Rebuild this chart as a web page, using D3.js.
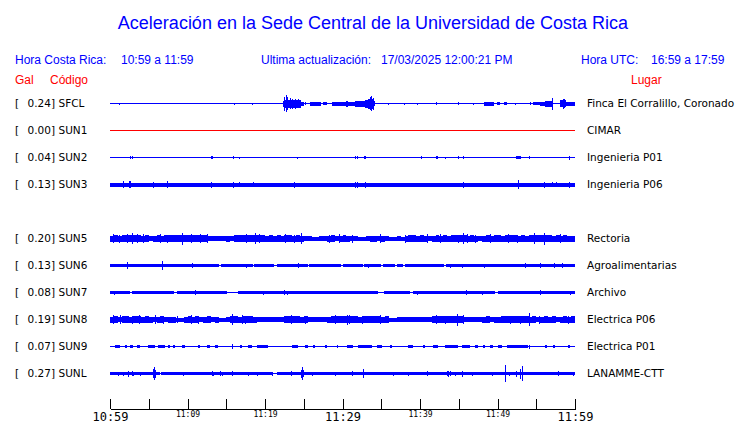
<!DOCTYPE html>
<html><head><meta charset="utf-8">
<script src="https://cdn.jsdelivr.net/npm/d3@7"></script>
<style>body{margin:0;background:#fff}svg{display:block}</style>
</head><body>
<svg id="c" width="740" height="423"></svg>
<script>
// ---------- DATA ----------
const title = "Aceleración en la Sede Central de la Universidad de Costa Rica";
const localRange = "10:59 a 11:59";
const utcRange = "16:59 a 17:59";
const updated = "17/03/2025 12:00:21 PM";

const rowOrder = ["SFCL","SUN1","SUN2","SUN3","SUN4","SUN5","SUN6","SUN7","SUN8","SUN9","SUNL"];
const codes  = ["SFCL","SUN1","SUN2","SUN3","SUN5","SUN6","SUN7","SUN8","SUN9","SUNL"];
const galValues = [0.24,0.00,0.04,0.13,0.20,0.13,0.08,0.19,0.07,0.27];
const places = ["Finca El Corralillo, Coronado","CIMAR","Ingenieria P01","Ingenieria P06","Rectoria",
  "Agroalimentarias","Archivo","Electrica P06","Electrica P01","LANAMME-CTT"];

// minutes after 10:59
const tickMinutes = [0,5,10,15,20,25,30,35,40,45,50,55,60];
const tickLabels  = ["10:59","","11:09","","11:19","","11:29","","11:39","","11:49","","11:59"];
const majorTicks  = ["10:59","11:29","11:59"];

// trace envelopes: bands [t0,t1,amp], spikes [t,amp], noise = half-minute envelope
const sfclBands = [[22.3,22.6,3.0],[22.6,24.6,4.0],[24.6,25.0,2.0],[25.8,27.2,2.0],[27.5,28.0,1.5],[28.7,30.4,2.0],
  [30.4,30.7,3.0],[30.7,31.6,2.0],[31.6,32.9,3.0],[32.9,33.3,4.0],[33.3,34.0,5.0],[34.0,34.2,2.5],
  [48.3,49.5,2.0],[49.9,50.3,1.5],[50.9,51.2,1.5],[54.6,55.5,1.5],[55.5,56.1,2.0],[56.1,57.2,3.0],
  [58.1,58.9,3.5],[58.9,60,2.0]];
const sfclSpikes = [[1.2,1.0],[16.0,1.0],[16.6,0.8],[18.3,1.0],[22.5,7.0],[22.7,8.5],[22.9,6.5],[23.2,5.5],
  [23.5,5.0],[23.9,5.0],[24.3,4.5],[25.2,1.2],[30.5,3.0],[33.5,6.5],[33.7,7.5],[33.9,6.0],[35.9,1.0],
  [38.0,1.0],[39.6,1.0],[42.1,1.2],[44.9,1.2],[46.9,1.0],[52.3,1.0],[54.2,1.2],[57.0,6.0],[58.4,5.0],[58.6,4.5]];

const sun1Bands = [], sun1Spikes = [];

const sun2Bands = [[13.0,13.25,1.5],[32.8,33.0,1.5],[42.1,42.3,1.3],[45.5,45.7,1.5],[52.4,53.0,1.8]];
const sun2Spikes = [[2.6,1.8],[2.8,1.8],[4.2,0.8],[15.9,1.8],[16.7,1.0],[24.1,1.0],[31.6,1.8],[31.9,1.8],
  [40.1,1.5],[43.2,1.0],[43.7,0.8],[44.9,1.5],[54.1,1.5],[59.2,2.0]];

const sun3Bands = [[0,60,2.0]];
const sun3Spikes = [[1.7,3.5],[2.5,3.5],[2.6,3.5],[5.6,3.0],[7.4,3.5],[13.0,3.0],[15.9,3.0],[16.7,2.8],[18.4,2.5],
  [23.8,3.0],[31.6,3.0],[31.9,3.0],[32.9,3.0],[45.6,3.0],[52.6,4.5],[56.0,3.0],[57.0,2.5],[57.5,2.5],[59.2,3.0]];

const sun5Noise = [3.0,3.2,3.0,3.4, 3.5,3.8,3.4,3.6, 3.0,3.2,2.8,3.0, 3.2,3.0,3.3,3.5, 3.6,3.4,3.8,3.5,
  3.4,3.6,3.3,3.5, 3.2,2.8,2.6,2.8, 2.6,2.8,3.0,2.7, 3.4,3.6,3.8,3.5, 3.8,3.6,3.4,3.2,
  3.0,3.2,3.0,3.3, 3.0,3.2,3.4,3.0, 3.3,3.0,2.8,2.2, 2.0,2.0,2.2,2.8, 3.0,3.2,2.8,3.0,
  3.2,3.0,2.8,2.6, 2.0,2.0,2.8,3.0, 3.0,2.8,3.0,2.2, 2.0,2.0,2.2,2.0, 3.0,3.2,3.4,3.0,
  3.2,3.0,2.8,3.0, 3.2,3.0,3.3,3.0, 3.4,3.6,3.8,3.5, 3.0,3.2,3.0,2.8, 3.0,3.2,3.0,3.4,
  3.2,3.0,3.3,3.5, 3.2,3.0,3.2,3.0, 3.4,3.6,3.5,3.4, 3.6,3.3,3.0,3.2, 3.0,3.2,3.0,3.0];
const sun5Spikes = [[0.4,4.2],[1.2,4.0],[2.2,4.5],[2.8,5.5],[3.5,4.8],[4.2,4.5],[6.5,4.3],[7.3,4.0],[9.3,6.0],
  [10.5,4.5],[11.6,4.2],[12.5,4.8],[17.5,4.2],[18.7,5.5],[19.2,4.5],[22.6,4.2],[23.8,4.0],[24.7,5.5],[28.2,4.0],
  [29.5,4.2],[31.2,4.0],[34.8,4.2],[38.1,4.0],[40.9,4.3],[42.6,4.2],[44.9,4.0],[45.6,5.5],[46.0,4.5],[47.1,4.0],
  [49.0,4.3],[51.4,4.5],[52.5,4.0],[54.75,5.8],[56.0,6.0],[58.1,4.2]];

const sun6Bands = [[0,14.1,1.7],[14.3,18.4,1.7],[18.6,21.1,1.7],[21.5,25.5,1.7],[25.7,29.8,1.7],[30.1,32.6,1.7],
  [32.8,35.0,1.7],[35.2,36.8,1.7],[37.0,37.8,1.7],[38.0,43.1,1.7],[43.3,60,1.7]];
const sun6Spikes = [[2.15,3.5],[6.75,4.5],[10.6,2.5],[17.6,2.0],[24.2,2.3],[33.3,2.0],[43.9,2.0],[45.4,2.0],
  [48.3,2.0],[53.6,2.5],[55.5,2.5],[57.3,2.2],[58.3,2.5]];

const sun7Bands = [[0,2.6,1.5],[2.9,8.2,1.5],[8.6,15.05,1.5],[16.5,34.6,1.5],[35.3,38.7,1.5],[39.1,49.7,1.5],[50.1,60,1.5]];
const sun7Spikes = [[0.56,2.0],[5.8,1.8],[11.0,2.5],[19.8,2.0],[22.5,2.5],[22.9,2.0],[29.0,1.8],[39.6,2.0],
  [45.9,2.5],[48.0,2.0],[55.5,2.5],[59.4,2.0]];

const sun8Noise = [3.0,3.2,2.9,3.1, 3.3,3.0,3.4,3.2, 3.0,3.1,3.0,2.9, 3.0,3.2,2.9,3.0, 3.0,2.0,2.0,3.0,
  3.2,3.0,3.1,2.9, 3.0,3.1,2.8,3.0, 2.0,2.0,2.2,3.3, 3.2,3.0,3.3,3.1, 3.2,3.0,2.8,2.7,
  2.8,2.6,2.8,2.9, 2.8,3.3,3.5,3.4, 3.2,3.0,3.3,2.8, 2.8,2.6,2.9,2.8, 3.0,3.4,3.6,3.4,
  3.7,3.5,3.3,3.4, 3.0,3.3,3.4,3.2, 3.5,3.2,3.0,3.1, 2.0,2.0,2.2,2.8, 2.6,2.8,2.7,2.9,
  2.8,2.6,2.8,3.2, 3.5,3.6,3.4,3.5, 3.3,3.6,3.5,2.6, 2.5,2.4,2.6,2.5, 3.0,3.1,2.9,3.0,
  3.0,3.2,3.3,3.2, 3.4,3.2,3.3,3.1, 3.0,3.2,2.9,3.0, 3.1,3.0,3.2,2.9, 3.0,3.1,3.0,3.2];
const sun8Spikes = [[0.43,4.2],[1.3,4.5],[2.8,4.0],[3.7,4.5],[5.8,4.2],[6.9,4.0],[8.6,3.5],[10.5,4.2],[11.4,4.0],
  [15.8,5.5],[17.0,4.2],[17.4,4.0],[18.2,3.8],[23.4,4.5],[25.2,4.0],[29.0,4.2],[30.6,5.0],[30.8,4.5],[32.5,4.0],
  [34.8,4.5],[42.1,4.5],[43.2,4.0],[44.8,6.0],[45.6,4.5],[51.6,4.0],[52.9,4.0],[54.1,6.5],[55.3,4.0],[59.1,4.0]];

const sun9Bands = [[0.65,1.29,1.2],[1.94,2.15,1.2],[2.58,3.01,1.2],[3.44,3.87,1.2],[4.95,5.81,1.3],[6.24,7.1,1.2],
  [7.53,7.74,1.2],[8.17,8.39,1.2],[9.25,9.68,1.2],[11.4,11.6,1.2],[12.47,12.9,1.2],[13.55,13.98,1.2],
  [16.77,16.99,1.2],[17.85,18.28,1.2],[18.92,20.43,1.2],[21.5,21.6,1.2],[23.44,24.3,1.2],[25.16,25.59,1.2],
  [26.24,26.45,1.2],[27.74,27.96,1.2],[29.25,29.46,1.2],[30.54,31.4,1.2],[32.04,33.76,1.2],[34.41,35.05,1.2],
  [36.13,36.34,1.2],[38.5,39.14,1.2],[40.43,40.65,1.2],[41.72,42.37,1.2],[43.23,44.95,1.2],[45.38,46.45,1.2],
  [47.1,47.53,1.2],[48.17,48.39,1.2],[49.03,49.46,1.2],[50.11,50.54,1.2],[51.18,53.98,1.4],[56.13,56.34,1.2],
  [57.2,57.42,1.2],[59.14,59.35,1.2]];
const sun9Spikes = [[5.0,1.5],[15.78,2.5],[38.6,1.5],[54.06,2.0]];

const sunlBands = [[0,6.4,1.7],[6.6,20.9,1.7],[21.5,60,1.7]];
const sunlSpikes = [[1.08,2.0],[1.72,2.0],[2.28,3.0],[2.88,2.3],[3.0,2.0],[3.87,2.0],[5.6,4.5],[5.72,6.7],
  [5.85,4.0],[9.46,2.0],[13.12,2.5],[13.3,2.0],[14.19,2.5],[14.4,2.0],[15.7,2.5],[17.76,2.0],[18.92,2.0],
  [20.86,2.0],[23.31,2.5],[24.6,4.0],[24.73,6.3],[24.85,3.5],[26.02,2.0],[29.03,2.0],[31.27,2.5],[32.69,4.5],
  [36.56,2.0],[38.5,2.0],[40.86,2.5],[43.5,2.8],[43.66,3.0],[43.9,2.5],[44.52,2.0],[45.38,3.0],[46.67,2.0],
  [49.25,2.0],[50.97,8.7],[51.48,2.0],[52.34,3.0],[52.9,5.0],[53.2,7.5],[57.85,2.5],[59.78,2.0]];

const traceBands  = [sfclBands,sun1Bands,sun2Bands,sun3Bands,[],sun6Bands,sun7Bands,[],sun9Bands,sunlBands];
const traceSpikes = [sfclSpikes,sun1Spikes,sun2Spikes,sun3Spikes,sun5Spikes,sun6Spikes,sun7Spikes,sun8Spikes,sun9Spikes,sunlSpikes];
const traceNoise  = [null,null,null,null,sun5Noise,null,null,sun8Noise,null,null];

// ---------- DRAW ----------
const BLUE = "#0000ff", RED = "#ff0000";
const svg = d3.select("#c");
const x = d3.scaleLinear().domain([0,60]).range([110,575]);
const row = d3.scalePoint().domain(rowOrder).range([103.5,373.5]);
const amp = d3.scaleLinear().domain([-10,10]).range([10,-10]);

svg.append("text").attr("x",373).attr("y",29).attr("text-anchor","middle")
  .attr("font-family","Liberation Sans, Arial, sans-serif").attr("font-size",18).attr("fill",BLUE).text(title);

const hdr = svg.append("g").attr("font-family","Liberation Sans, Arial, sans-serif").attr("font-size",12);
hdr.append("text").attr("x",15).attr("y",64).attr("fill",BLUE).text("Hora Costa Rica:");
hdr.append("text").attr("x",121).attr("y",64).attr("fill",BLUE).text(localRange);
hdr.append("text").attr("x",261).attr("y",64).attr("fill",BLUE).text("Ultima actualización:");
hdr.append("text").attr("x",381).attr("y",64).attr("fill",BLUE).text(updated);
hdr.append("text").attr("x",581).attr("y",64).attr("fill",BLUE).text("Hora UTC:");
hdr.append("text").attr("x",651).attr("y",64).attr("fill",BLUE).text(utcRange);
hdr.append("text").attr("x",15).attr("y",84).attr("fill",RED).text("Gal");
hdr.append("text").attr("x",50).attr("y",84).attr("fill",RED).text("Código");
hdr.append("text").attr("x",631).attr("y",84).attr("fill",RED).text("Lugar");

const lab = svg.append("g").attr("font-family","DejaVu Sans, sans-serif").attr("font-size",10.5).attr("fill","#000");
codes.forEach((c,i)=>{
  const cy = row(c);
  lab.append("text").attr("x",15).attr("y",cy).attr("dy","0.36em").text("[");
  lab.append("text").attr("x",55).attr("y",cy).attr("dy","0.36em").attr("text-anchor","end").text(galValues[i].toFixed(2)+"]");
  lab.append("text").attr("x",58.5).attr("y",cy).attr("dy","0.36em").text(c);
  lab.append("text").attr("x",587).attr("y",cy).attr("dy","0.36em").text(places[i]);

  const col = galValues[i] === 0 ? RED : BLUE;
  const g = svg.append("g").attr("transform",`translate(0,${cy})`).attr("fill",col).attr("stroke",col)
    .attr("shape-rendering","crispEdges");
  g.append("line").attr("x1",x(0)).attr("x2",x(60)).attr("y1",-0.5).attr("y2",-0.5).attr("stroke-width",1);
  if (traceNoise[i]) {
    const pts = traceNoise[i].map((a,k)=>[k*0.5,a]);
    pts.push([60, traceNoise[i][traceNoise[i].length-1]]);
    const area = d3.area().curve(d3.curveStepAfter).x(d=>x(d[0])).y0(d=>amp(-d[1])).y1(d=>amp(d[1]));
    g.append("path").attr("d",area(pts)).attr("stroke","none");
  }
  g.selectAll("rect.b").data(traceBands[i]).join("rect").attr("class","b").attr("stroke","none")
    .attr("x",d=>x(d[0])).attr("width",d=>x(d[1])-x(d[0]))
    .attr("y",d=>amp(d[2])).attr("height",d=>amp(-d[2])-amp(d[2]));
  g.selectAll("rect.s").data(traceSpikes[i]).join("rect").attr("class","s").attr("stroke","none")
    .attr("x",d=>Math.round(x(d[0]))).attr("width",1.2)
    .attr("y",d=>amp(d[1])).attr("height",d=>amp(-d[1])-amp(d[1]));
});

const axis = d3.axisBottom(x).tickValues(tickMinutes).tickSize(-10).tickSizeOuter(0)
  .tickFormat((d,i)=>tickLabels[i]);
const ag = svg.append("g").attr("transform","translate(0,409)").attr("shape-rendering","crispEdges").call(axis);
ag.select(".domain").attr("stroke","#000");
ag.selectAll(".tick line").attr("stroke","#000");
const isMajor = d => majorTicks.includes(tickLabels[tickMinutes.indexOf(d)]);
ag.selectAll(".tick text").attr("fill","#000").attr("font-family","DejaVu Sans Mono, monospace")
  .attr("dy",null)
  .attr("font-size",d=>isMajor(d) ? 12 : 8)
  .attr("y",d=>isMajor(d) ? 12 : 8);
</script>
</body></html>
